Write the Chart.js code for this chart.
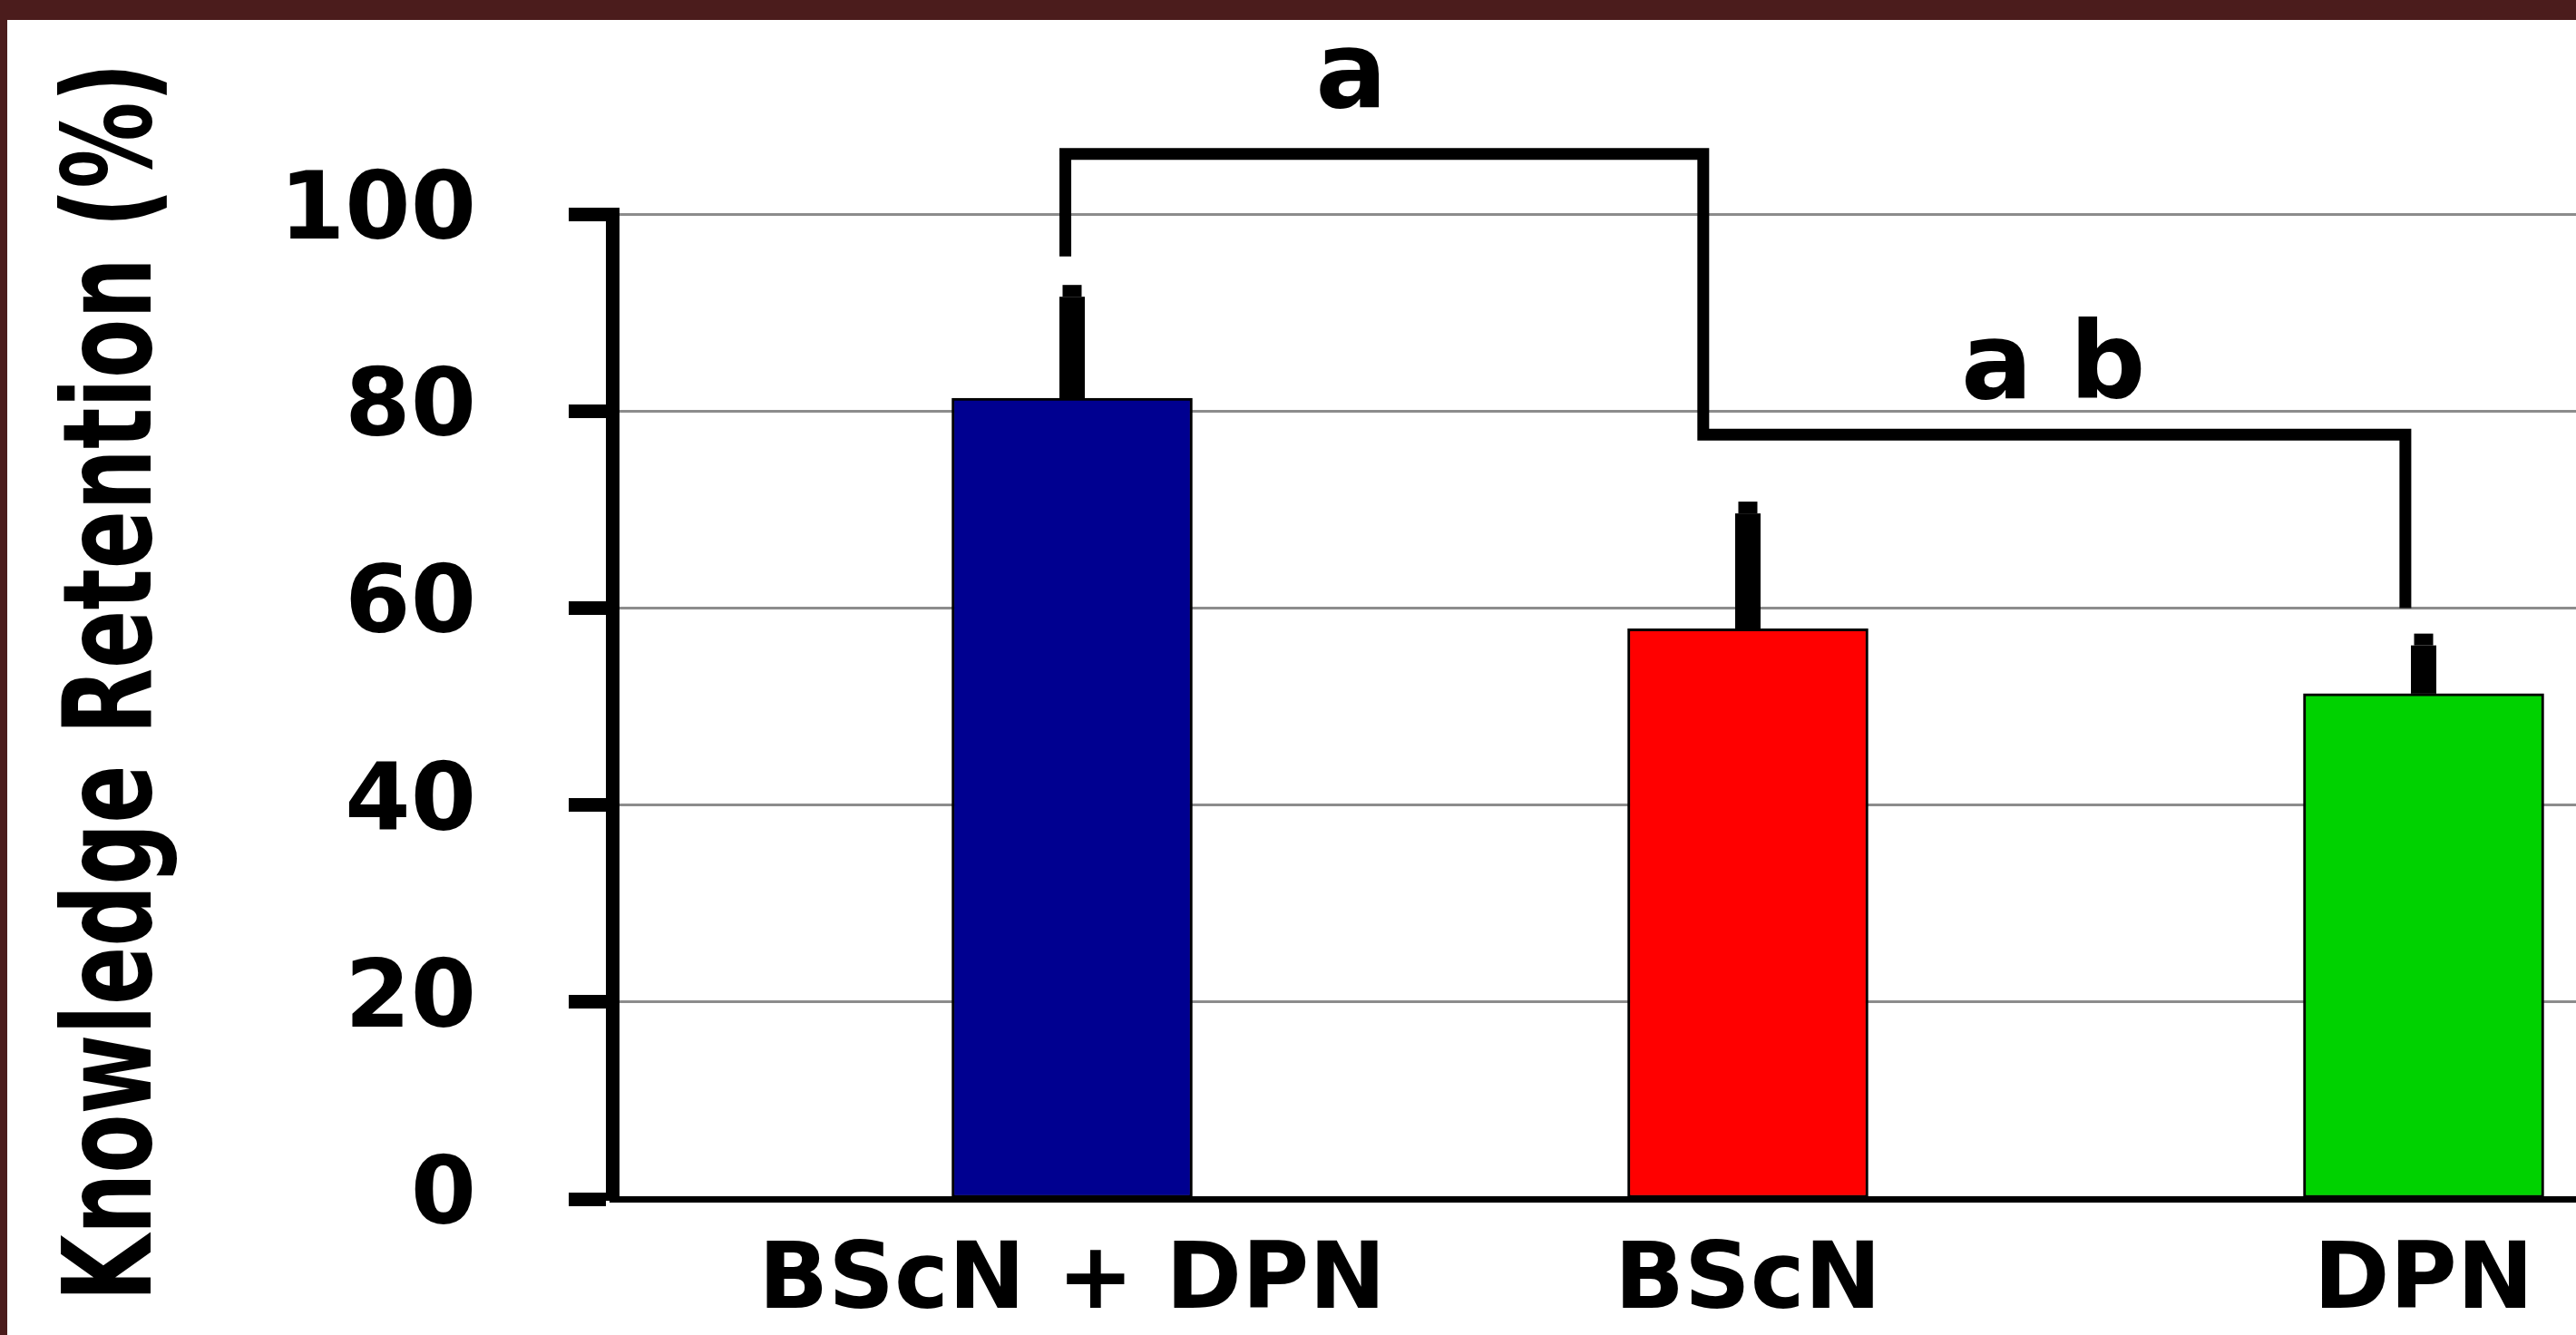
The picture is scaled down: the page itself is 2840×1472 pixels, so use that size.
<!DOCTYPE html>
<html>
<head>
<meta charset="utf-8">
<script src="https://cdn.jsdelivr.net/npm/chart.js@4.4.1/dist/chart.umd.min.js"></script>
<style>
  html, body { margin: 0; padding: 0; background: #4b1c1c; overflow: hidden; }
  #wrap { position: absolute; left: 8px; top: 22px; width: 2832px; height: 1450px; background: #fff; }
</style>
</head>
<body>
<div id="wrap"><canvas id="retentionChart"></canvas></div>
<script>
const categories = ['BScN + DPN', 'BScN', 'DPN'];
const retention = [81.3, 57.9, 51.3];
const errors = [11.5, 12.9, 6.1];
const barColors = ['#000090', '#ff0000', '#00d200'];
const yTicks = [0, 20, 40, 60, 80, 100];
const yTitle = 'Knowledge Retention (%)';

// significance bracket, in data units (x = category index, y = %)
const bracketPath = [[-0.01, 95.7], [-0.01, 106.1], [0.934, 106.1], [0.934, 77.6], [1.973, 77.6], [1.973, 60]];
const sigLabels = ['a', 'a b'];
const sigLabelPos = [[0.413, 110.9], [1.452, 81.3]];

const boldFont = size => `bold ${size}px "DejaVu Sans"`;

// error bars + bracket + letters drawn on top of the bars
const annotations = {
    id: 'annotations',
    afterDatasetsDraw(chart) {
        const { ctx, scales: { x, y } } = chart;
        ctx.save();
        ctx.fillStyle = '#000';
        retention.forEach((v, i) => {
            const cx = x.getPixelForValue(i);
            const top = y.getPixelForValue(v + errors[i]);
            const base = y.getPixelForValue(v);
            ctx.fillRect(cx - 14, top + 13, 28, base - top - 13);
            ctx.fillRect(cx - 10.5, top, 21, 13);
        });

        ctx.strokeStyle = '#000';
        ctx.lineWidth = 13;
        ctx.lineJoin = 'miter';
        ctx.beginPath();
        bracketPath.forEach(([bx, by], k) => {
            const px = x.getPixelForValue(bx);
            const py = y.getPixelForValue(by);
            if (k === 0) ctx.moveTo(px, py); else ctx.lineTo(px, py);
        });
        ctx.stroke();

        ctx.font = boldFont(117);
        ctx.textAlign = 'center';
        ctx.textBaseline = 'alphabetic';
        sigLabels.forEach((t, i) => {
            ctx.fillText(t, x.getPixelForValue(sigLabelPos[i][0]), y.getPixelForValue(sigLabelPos[i][1]));
        });
        ctx.restore();
    }
};

// rotated axis title, stretched across like the original
const yAxisTitle = {
    id: 'yAxisTitle',
    afterDraw(chart) {
        const { ctx, chartArea } = chart;
        ctx.save();
        ctx.translate(158, (chartArea.top + chartArea.bottom) / 2 - 27);
        ctx.rotate(-Math.PI / 2);
        ctx.scale(1, 1.43);
        ctx.font = boldFont(95);
        ctx.fillStyle = '#000';
        ctx.textAlign = 'center';
        ctx.textBaseline = 'alphabetic';
        ctx.fillText(yTitle, 0, 0);
        ctx.restore();
    }
};

new Chart(document.getElementById('retentionChart'), {
    type: 'bar',
    data: {
        datasets: [{
            data: retention.map((v, i) => ({ x: i, y: v })),
            backgroundColor: barColors,
            borderColor: '#000',
            borderWidth: 3,
            borderSkipped: false,
            barThickness: 265
        }]
    },
    options: {
        responsive: true,
        maintainAspectRatio: false,
        animation: false,
        layout: { padding: { top: 214, left: 0, right: 0, bottom: 0 } },
        plugins: {
            legend: { display: false },
            tooltip: { enabled: false }
        },
        scales: {
            x: {
                type: 'linear',
                min: -0.6805,
                max: 2.2255,
                offset: false,
                grid: { display: false, drawTicks: false },
                border: { display: true, color: '#000', width: 7 },
                afterBuildTicks: s => { s.ticks = categories.map((_, i) => ({ value: i })); },
                afterFit: s => { s.height = 150; },
                ticks: {
                    autoSkip: false,
                    maxRotation: 0,
                    padding: 33,
                    color: '#000',
                    font: { family: 'DejaVu Sans', weight: 'bold', size: 101 },
                    callback: v => categories[v]
                }
            },
            y: {
                min: 0,
                max: 100,
                afterBuildTicks: s => { s.ticks = yTicks.map(v => ({ value: v })); },
                afterFit: s => {
                    s.width = 667;
                    // tick padding is horizontal here, don't let it shrink the plot vertically
                    s.paddingTop = 0;
                    s.paddingBottom = 0;
                },
                grid: { color: '#8c8c8c', lineWidth: 3, tickColor: '#000', tickWidth: 15, tickLength: 48 },
                border: { color: '#000', width: 15 },
                ticks: {
                    padding: 102,
                    color: '#000',
                    font: { family: 'DejaVu Sans', weight: 'bold', size: 104 }
                }
            }
        }
    },
    plugins: [annotations, yAxisTitle]
});
</script>
</body>
</html>
